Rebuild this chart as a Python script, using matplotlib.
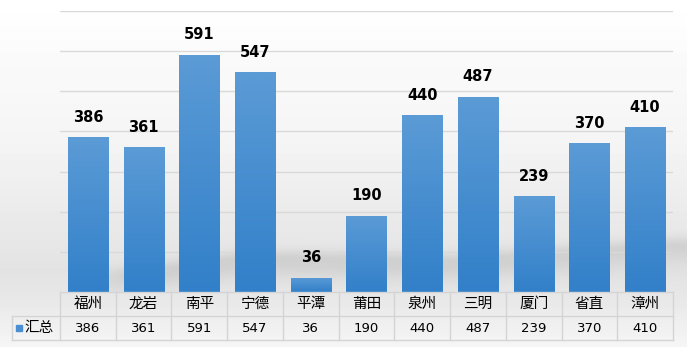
import matplotlib
matplotlib.use("Agg")
import matplotlib.pyplot as plt
import numpy as np
from matplotlib.colors import LinearSegmentedColormap

categories = ["福州", "龙岩", "南平", "宁德", "平潭", "莆田", "泉州", "三明", "厦门", "省直", "漳州"]
values = [386, 361, 591, 547, 36, 190, 440, 487, 239, 370, 410]
series_name = "汇总"

plt.rcParams['font.family'] = ['Noto Sans CJK SC', 'DejaVu Sans']

W, H = 687, 347
fig = plt.figure(figsize=(W / 100, H / 100), dpi=100)

# background: vertical gradient plus soft diagonal shadow
bg = fig.add_axes([0, 0, 1, 1], zorder=-10)
yy, xx = np.mgrid[0:H, 0:W].astype(float)
prof_y = [0, 150, 270, 295, 347]
prof_v = [1.0, 0.955, 0.89, 0.905, 0.965]
base = np.interp(yy, prof_y, prof_v)
yc = np.interp(xx, [80, 250, 450, 680], [282, 258, 262, 245])
d = yy - yc
shade = 0.08 * np.where(d < 0, np.exp(-(d / 9.0) ** 2), np.exp(-(d / 18.0) ** 2))
shade *= np.clip((xx - 70) / 60, 0, 1)
shade *= (yy < 292)
img = np.clip(base - shade, 0, 1)
bg.imshow(img, cmap="gray", vmin=0, vmax=1, extent=[0, 1, 0, 1], aspect="auto",
          origin="upper", interpolation="bilinear")
bg.set_axis_off()

x0, x1, ytop, ybase = 60, 673, 11, 292
ax = fig.add_axes([x0 / W, (H - ybase) / H, (x1 - x0) / W, (ybase - ytop) / H])
ax.patch.set_alpha(0)
ax.set_xlim(-0.5, len(categories) - 0.5)
ax.set_ylim(0, 700)
ax.set_yticks(range(100, 701, 100))
ax.yaxis.grid(True, color="#d9d9d9", linewidth=1)
ax.set_axisbelow(True)
for s in ax.spines.values():
    s.set_visible(False)
ax.tick_params(left=False, bottom=False, labelleft=False, labelbottom=False)

xs = np.arange(len(categories))
bars = ax.bar(xs, values, width=0.72, color="#4a8fd3", zorder=2)
bar_cmap = LinearSegmentedColormap.from_list("bar", ["#3280c9", "#5b9bd6"])
for b in bars:
    xb, wb, hb = b.get_x(), b.get_width(), b.get_height()
    im = ax.imshow(np.linspace(0, 1, 100).reshape(-1, 1), cmap=bar_cmap, aspect="auto",
                   extent=[xb, xb + wb, 0, max(hb, 1)], origin="lower", zorder=3)
    im.set_clip_path(b)

for x, v in zip(xs, values):
    ax.annotate(str(v), (x, v), xytext=(0, 9), textcoords="offset points",
                ha="center", va="bottom", fontsize=10.5, fontweight="bold",
                family=["DejaVu Sans"], color="black")

# data table
def fx(px):
    return px / W
def fy(py):
    return 1 - py / H

lc = "#d4d4d4"
cat_w = (x1 - x0) / len(categories)
r1, r2, r3 = 292, 316, 340
fig.add_artist(plt.Line2D([fx(x0), fx(x1)], [fy(r1), fy(r1)], color=lc, lw=1))
fig.add_artist(plt.Line2D([fx(12), fx(x1)], [fy(r2), fy(r2)], color=lc, lw=1))
fig.add_artist(plt.Line2D([fx(12), fx(x1)], [fy(r3), fy(r3)], color=lc, lw=1))
fig.add_artist(plt.Line2D([fx(12), fx(12)], [fy(r2), fy(r3)], color=lc, lw=1))
for i in range(len(categories) + 1):
    xv = x0 + i * cat_w
    fig.add_artist(plt.Line2D([fx(xv), fx(xv)], [fy(r1), fy(r3)], color=lc, lw=1))
for i, (c, v) in enumerate(zip(categories, values)):
    cx = x0 + (i + 0.5) * cat_w
    fig.text(fx(cx), fy((r1 + r2) / 2), c, ha="center", va="center", fontsize=10.5, color="black")
    fig.text(fx(cx), fy((r2 + r3) / 2), str(v), ha="center", va="center", fontsize=9.5,
             family=["DejaVu Sans"], color="black")
fig.add_artist(plt.Rectangle((fx(16), fy(331)), 6 / W, 6 / H, color="#4a8fd3"))
fig.text(fx(24), fy((r2 + r3) / 2), series_name, ha="left", va="center", fontsize=10.5, color="black")

fig.savefig("out.png", dpi=100)
